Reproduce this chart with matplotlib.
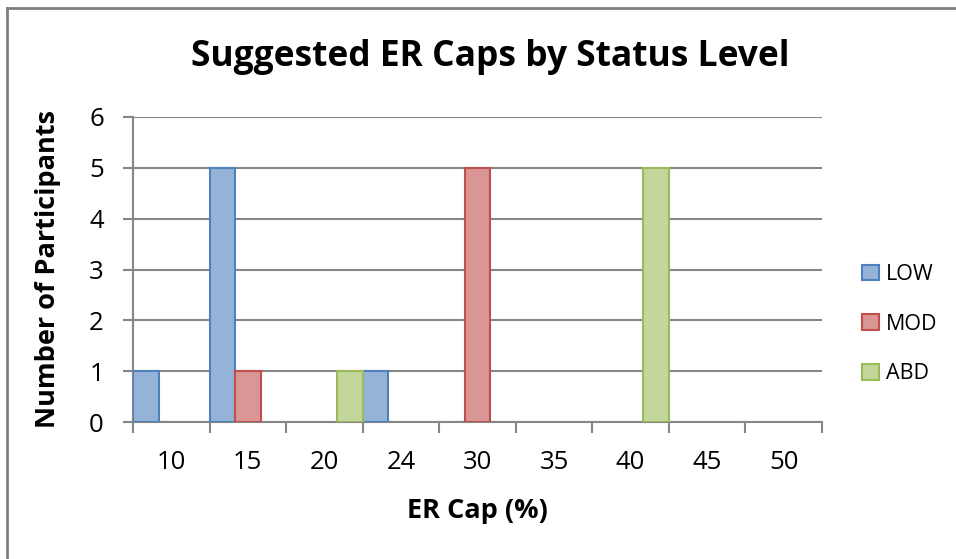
import numpy as np
import matplotlib.pyplot as plt
from matplotlib.lines import Line2D

# data
caps = ["10", "15", "20", "24", "30", "35", "40", "45", "50"]
low = [1, 5, 0, 1, 0, 0, 0, 0, 0]
mod = [0, 1, 0, 0, 5, 0, 0, 0, 0]
abd = [0, 0, 1, 0, 0, 0, 5, 0, 0]
series_names = ["LOW", "MOD", "ABD"]

fills = ["#95B3D7", "#D99694", "#C3D69B"]
edges = ["#4F81BD", "#C0504D", "#9BBB59"]
grid_col = "#868686"

plt.rcParams["font.family"] = ["Open Sans", "DejaVu Sans"]

fig = plt.figure(figsize=(9.56, 5.59), dpi=100)
ax = fig.add_axes([133 / 956, 1 - 422 / 559, (822 - 133) / 956, (422 - 117) / 559])

x = np.arange(len(caps))
w = 1 / 3
for k, vals in enumerate([low, mod, abd]):
    vals = np.array(vals)
    nz = vals > 0  # skip empty bars so no stray edges at zero
    ax.bar(x[nz] + k * w, vals[nz], width=w, align="edge", color=fills[k],
           edgecolor=edges[k], linewidth=1.5, label=series_names[k], zorder=3)

ax.set_xlim(0, len(caps))
ax.set_ylim(0, 6)
ax.set_yticks(range(0, 7))
ax.yaxis.grid(True, color=grid_col, linewidth=1.5, zorder=0)

# ticks at category borders, labels at centres
ax.set_xticks(np.arange(len(caps) + 1))
ax.set_xticklabels([])
ax.set_xticks(x + 0.5, minor=True)
ax.set_xticklabels(caps, minor=True)
ax.tick_params(axis="x", which="major", length=8, width=1.5, color=grid_col)
ax.tick_params(axis="x", which="minor", length=0, pad=20, labelsize=18.5)
ax.tick_params(axis="y", length=7, width=1.5, color=grid_col, labelsize=18.5, pad=14)

for s in ["top", "right"]:
    ax.spines[s].set_visible(False)
for s in ["left", "bottom"]:
    ax.spines[s].set_color(grid_col)
    ax.spines[s].set_linewidth(1.5)

ax.set_xlabel("ER Cap (%)", fontsize=19.5, fontweight="bold", va="center")
ax.xaxis.set_label_coords(0.5, -(511 - 422) / 305)
ax.set_ylabel("Number of Participants", fontsize=19.5, fontweight="bold", va="center")
ax.yaxis.set_label_coords(-(133 - 48) / 689, 0.5)
fig.text(490 / 956, 1 - 57 / 559, "Suggested ER Caps by Status Level", ha="center",
         va="center", fontsize=25.5, fontweight="bold")

ax.legend(loc="center left", bbox_to_anchor=(1.043, 0.321), frameon=False,
          fontsize=15.5, handlelength=0.75, handleheight=0.75, labelspacing=1.33,
          handletextpad=0.35, borderpad=0)

# outer chart border (only left and top visible)
fig.add_artist(Line2D([7 / 956, 7 / 956], [0, 1 - 8 / 559], transform=fig.transFigure,
                      color="#7F7F7F", linewidth=2))
fig.add_artist(Line2D([7 / 956, 1], [1 - 8 / 559, 1 - 8 / 559], transform=fig.transFigure,
                      color="#7F7F7F", linewidth=2))

fig.savefig("out.png", dpi=100)
